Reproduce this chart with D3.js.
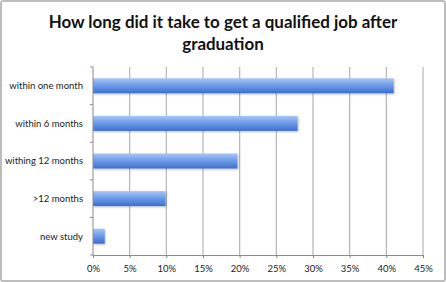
<!DOCTYPE html>
<html>
<head>
<meta charset="utf-8">
<script src="https://cdn.jsdelivr.net/npm/d3@7"></script>
<style>
html, body { margin: 0; padding: 0; background: #fff; }
svg { display: block; font-family: Lato, "Open Sans", sans-serif; }
</style>
</head>
<body>
<div id="chart"></div>
<script>
const categories = ["within one month", "within 6 months", "withing 12 months", ">12 months", "new study"];
const values = [41.0, 27.9, 19.7, 9.9, 1.6];
const xTicks = [0, 5, 10, 15, 20, 25, 30, 35, 40, 45];
const titleLines = ["How long did it take to get a qualified job after", "graduation"];

const width = 446, height = 282;
const margin = { top: 67, right: 23, bottom: 27, left: 93 };

const svg = d3.select("#chart").append("svg")
    .attr("width", width)
    .attr("height", height);

const defs = svg.append("defs");
const grad = defs.append("linearGradient")
    .attr("id", "barGrad")
    .attr("x1", 0).attr("y1", 0).attr("x2", 0).attr("y2", 1);
grad.append("stop").attr("offset", "0%").attr("stop-color", "#a9c6f5");
grad.append("stop").attr("offset", "45%").attr("stop-color", "#6f9de8");
grad.append("stop").attr("offset", "100%").attr("stop-color", "#3c6ecf");

const shadow = defs.append("filter").attr("id", "shadow")
    .attr("x", "-10%").attr("y", "-30%").attr("width", "120%").attr("height", "160%");
shadow.append("feDropShadow")
    .attr("dx", 1).attr("dy", 1).attr("stdDeviation", 1)
    .attr("flood-color", "#000").attr("flood-opacity", 0.25);

// outer border
svg.append("rect")
    .attr("x", 1).attr("y", 1)
    .attr("width", width - 2).attr("height", height - 2)
    .attr("rx", 2)
    .attr("fill", "#fff")
    .attr("stroke", "#bdbdbd")
    .attr("stroke-width", 2);

// title
const title = svg.append("text")
    .attr("text-anchor", "middle")
    .attr("font-weight", "bold")
    .attr("font-size", 16)
    .attr("fill", "#111");
title.selectAll("tspan")
    .data(titleLines)
    .join("tspan")
    .attr("x", 223)
    .attr("y", (d, i) => 28 + i * 22)
    .text(d => d);

// fit first title line to the reference width
const firstLen = title.select("tspan").node().getComputedTextLength();
title.attr("font-size", 16 * 349 / firstLen);

const x = d3.scaleLinear()
    .domain([0, 45])
    .range([margin.left, width - margin.right]);

const y = d3.scaleBand()
    .domain(categories)
    .range([margin.top, height - margin.bottom])
    .paddingInner(0.6)
    .paddingOuter(0.3);

// gridlines
svg.append("g")
    .selectAll("line")
    .data(xTicks.slice(1))
    .join("line")
    .attr("x1", d => x(d)).attr("x2", d => x(d))
    .attr("y1", margin.top).attr("y2", height - margin.bottom)
    .attr("stroke", "#b5b5b5")
    .attr("stroke-width", 1.2);

// bars
svg.append("g")
    .selectAll("rect")
    .data(values)
    .join("rect")
    .attr("x", x(0))
    .attr("y", (d, i) => y(categories[i]))
    .attr("width", d => x(d) - x(0))
    .attr("height", y.bandwidth())
    .attr("fill", "url(#barGrad)")
    .attr("filter", "url(#shadow)");

// x axis
const xAxis = svg.append("g")
    .attr("transform", `translate(0,${height - margin.bottom})`)
    .call(d3.axisBottom(x).tickValues(xTicks).tickSize(3).tickPadding(7)
        .tickFormat(d => d + "%"));
xAxis.select(".domain").attr("stroke", "#8a8a8a");
xAxis.selectAll(".tick line").attr("stroke", "#8a8a8a");
xAxis.selectAll("text").attr("font-size", 9.5).attr("fill", "#222")
    .attr("font-family", "Lato, sans-serif");

// y axis: category labels, ticks between bands
const yAxis = svg.append("g")
    .attr("transform", `translate(${margin.left},0)`);
yAxis.append("line")
    .attr("x1", 0).attr("x2", 0)
    .attr("y1", margin.top).attr("y2", height - margin.bottom)
    .attr("stroke", "#8a8a8a");
const step = y.step();
yAxis.selectAll(".sep")
    .data(d3.range(categories.length + 1))
    .join("line")
    .attr("class", "sep")
    .attr("x1", -3).attr("x2", 0)
    .attr("y1", i => margin.top + i * step)
    .attr("y2", i => margin.top + i * step)
    .attr("stroke", "#8a8a8a");
yAxis.selectAll(".lbl")
    .data(categories)
    .join("text")
    .attr("class", "lbl")
    .attr("x", -10)
    .attr("y", d => y(d) + y.bandwidth() / 2)
    .attr("dy", "0.35em")
    .attr("text-anchor", "end")
    .attr("font-size", 9.5)
    .attr("fill", "#222")
    .text(d => d);
</script>
</body>
</html>
